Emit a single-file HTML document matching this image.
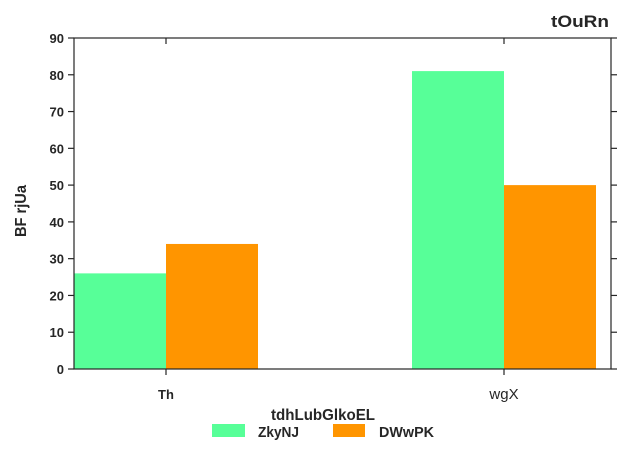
<!DOCTYPE html>
<html><head><meta charset="utf-8"><style>
html,body{margin:0;background:#fff;width:632px;height:474px;overflow:hidden;position:relative}
svg{position:absolute;left:0;top:0}
svg text{font-family:"Liberation Sans",sans-serif;fill:#262626}
</style></head><body>
<svg width="632" height="474">
<g id="plot"></g>
</svg>
<script>
const categories=["Th","wgX"];
const seriesNames=["ZkyNJ","DWwPK"];
const seriesA=[26,81];
const seriesB=[34,50];
const yTicks=[0,10,20,30,40,50,60,70,80,90];
const colors=["#57ff98","#ff9500"];
const L=74,R=611,T=38,B=369;
const y=v=>B-(v/90)*(B-T);
const cx=i=>166+i*338;
const bw=92;
const g=document.getElementById('plot');
const NS="http://www.w3.org/2000/svg";
function mk(t,a,p){const e=document.createElementNS(NS,t);for(const k in a)e.setAttribute(k,a[k]);(p||g).appendChild(e);return e;}
[seriesA,seriesB].forEach((s,si)=>{s.forEach((v,i)=>{
 const x=si===0?cx(i)-bw:cx(i);
 const r=mk('rect',{x:x,y:y(v),width:bw,height:B-y(v),fill:colors[si]});
 
 
});});
const fr=mk('rect',{x:L,y:T,width:R-L,height:B-T,fill:'none',stroke:'#262626','stroke-width':1.2});


yTicks.forEach(t=>{
 mk('line',{x1:L-6,x2:L,y1:y(t),y2:y(t),stroke:'#262626','stroke-width':1.2});
 mk('line',{x1:R,x2:R+6,y1:y(t),y2:y(t),stroke:'#262626','stroke-width':1.2});
 const tx=mk('text',{x:L-10,y:y(t)+5,'text-anchor':'end','font-size':13,'font-weight':'bold'});
 tx.textContent=t;
 
 
});
categories.forEach((c,i)=>{
 mk('line',{x1:cx(i),x2:cx(i),y1:B,y2:B+6,stroke:'#262626','stroke-width':1.2});
 mk('line',{x1:cx(i),x2:cx(i),y1:T,y2:T+6,stroke:'#262626','stroke-width':1.2});
 const tx=mk('text',{x:cx(i),y:399,'text-anchor':'middle','font-size':i===0?13:15,'font-weight':i===0?'bold':'normal'});
 tx.textContent=c;
 
 
});
</script>
<svg width="632" height="474">
<text x="551" y="27" textLength="58" lengthAdjust="spacingAndGlyphs" font-size="17" font-weight="bold">tOuRn</text>
<text transform="translate(26,237) rotate(-90)" textLength="52" lengthAdjust="spacingAndGlyphs" font-size="16" font-weight="bold">BF  rjUa</text>
<text x="271" y="420" textLength="104" lengthAdjust="spacingAndGlyphs" font-size="16" font-weight="bold">tdhLubGlkoEL</text>
<rect x="212" y="424" width="33" height="13" fill="#57ff98"/>
<text x="258" y="437" textLength="41" lengthAdjust="spacingAndGlyphs" font-size="15" font-weight="bold">ZkyNJ</text>
<rect x="333" y="424" width="32" height="13" fill="#ff9500"/>
<text x="379" y="437" textLength="55" lengthAdjust="spacingAndGlyphs" font-size="15" font-weight="bold">DWwPK</text>
</svg>
</body></html>
